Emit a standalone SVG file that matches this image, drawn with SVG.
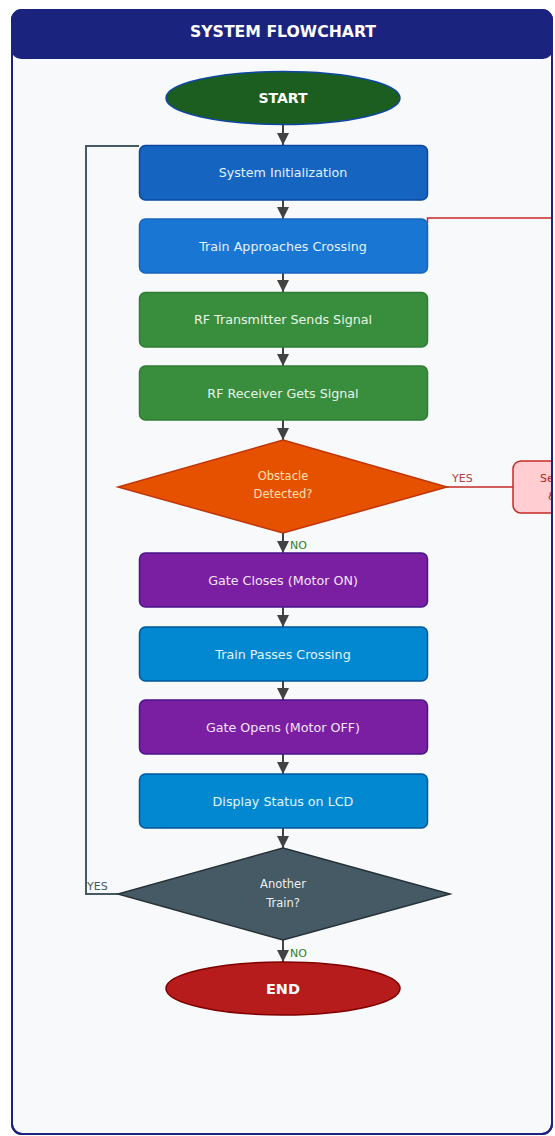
<svg xmlns="http://www.w3.org/2000/svg" width="555" height="1136" viewBox="0 0 555 1136">
<defs>
<style>
.lbl{font-family:"DejaVu Sans","Liberation Sans",sans-serif;text-anchor:middle}
.bx{font-size:12.7px}
.dt{font-size:11.5px}
.tag{font-family:"DejaVu Sans","Liberation Sans",sans-serif;font-size:11px}
.flow{stroke:#424242;stroke-width:2;fill:none}
</style>
<marker id="ah" markerUnits="userSpaceOnUse" markerWidth="12" markerHeight="12" refX="12" refY="6" orient="auto">
<path d="M0,0 L12,6 L0,12 z" fill="#424242"/>
</marker>
<clipPath id="frameclip"><rect x="12" y="10" width="540" height="1124"/></clipPath>
</defs>
<rect x="0" y="0" width="555" height="1136" fill="#ffffff"/>
<g id="frame">
<rect x="12" y="10" width="540" height="1124" rx="10" fill="#f8f9fa" stroke="#1a237e" stroke-width="2"/>
<rect x="11" y="10" width="542" height="49" rx="10" fill="#1a237e"/>
<text x="283" y="37" class="lbl" font-size="15.7" font-weight="bold" fill="#ffffff">SYSTEM FLOWCHART</text>
</g>
<g id="connectors">
<line x1="283" y1="125" x2="283" y2="145" class="flow" marker-end="url(#ah)"/>
<line x1="283" y1="200" x2="283" y2="219" class="flow" marker-end="url(#ah)"/>
<line x1="283" y1="273" x2="283" y2="292" class="flow" marker-end="url(#ah)"/>
<line x1="283" y1="347" x2="283" y2="366" class="flow" marker-end="url(#ah)"/>
<line x1="283" y1="420" x2="283" y2="440" class="flow" marker-end="url(#ah)"/>
<line x1="283" y1="533" x2="283" y2="553" class="flow" marker-end="url(#ah)"/>
<line x1="283" y1="607" x2="283" y2="627" class="flow" marker-end="url(#ah)"/>
<line x1="283" y1="681" x2="283" y2="700" class="flow" marker-end="url(#ah)"/>
<line x1="283" y1="754" x2="283" y2="774" class="flow" marker-end="url(#ah)"/>
<line x1="283" y1="828" x2="283" y2="848" class="flow" marker-end="url(#ah)"/>
<line x1="283" y1="940" x2="283" y2="962" class="flow" marker-end="url(#ah)"/>
<path d="M118,894 H86 V146 H139" fill="none" stroke="#455a64" stroke-width="2"/>
<line x1="447" y1="487" x2="513" y2="487" stroke="#c62828" stroke-width="1.5"/>
<path d="M553,218 H427.5 V223" fill="none" stroke="#c62828" stroke-width="1.5"/>
<text x="452" y="482" class="tag" fill="#b0413e">YES</text>
<text x="290" y="549" class="tag" fill="#2e7d32">NO</text>
<text x="87" y="890" class="tag" fill="#455a64">YES</text>
<text x="290" y="957" class="tag" fill="#2e7d32">NO</text>
</g>
<g id="start">
<ellipse cx="283" cy="98" rx="117" ry="26.5" fill="#1b5e20" stroke="#0d47a1" stroke-width="1.5"/>
<text x="283" y="103" class="lbl" font-size="14" font-weight="bold" fill="#ffffff">START</text>
</g>
<g id="init">
<rect x="139.5" y="145.5" width="288" height="54.5" rx="6" fill="#1565c0" stroke="#0d47a1" stroke-width="1.5"/>
<text x="283" y="177" class="lbl bx" fill="#e3f2fd">System Initialization</text>
</g>
<g id="approach">
<rect x="139.5" y="219" width="288" height="54" rx="6" fill="#1976d2" stroke="#1565c0" stroke-width="1.5"/>
<text x="283" y="250.5" class="lbl bx" fill="#e3f2fd">Train Approaches Crossing</text>
</g>
<g id="transmit">
<rect x="139.5" y="292.5" width="288" height="54.5" rx="6" fill="#388e3c" stroke="#2e7d32" stroke-width="1.5"/>
<text x="283" y="324" class="lbl bx" fill="#e8f5e9">RF Transmitter Sends Signal</text>
</g>
<g id="receive">
<rect x="139.5" y="366" width="288" height="54" rx="6" fill="#388e3c" stroke="#2e7d32" stroke-width="1.5"/>
<text x="283" y="397.5" class="lbl bx" fill="#e8f5e9">RF Receiver Gets Signal</text>
</g>
<g id="obstacle">
<polygon points="283,440 447,487 283,533 118,487" fill="#e65100" stroke="#bf360c" stroke-width="1.5"/>
<text x="283" y="480" class="lbl dt" fill="#ffe0b2">Obstacle</text>
<text x="283" y="498" class="lbl dt" fill="#ffe0b2">Detected?</text>
</g>
<g id="alert" clip-path="url(#frameclip)">
<rect x="513" y="461" width="90" height="52" rx="8" fill="#ffcdd2" stroke="#c62828" stroke-width="1.5"/>
<text x="540" y="482" class="tag" font-size="11.5" fill="#b71c1c">Se</text>
<text x="548" y="500" class="tag" font-size="11.5" fill="#b71c1c">&amp;</text>
</g>
<g id="gateclose">
<rect x="139.5" y="553" width="288" height="54" rx="6" fill="#7b1fa2" stroke="#4a148c" stroke-width="1.5"/>
<text x="283" y="584.5" class="lbl bx" fill="#f3e5f5">Gate Closes (Motor ON)</text>
</g>
<g id="passes">
<rect x="139.5" y="627" width="288" height="54" rx="6" fill="#0288d1" stroke="#01579b" stroke-width="1.5"/>
<text x="283" y="658.5" class="lbl bx" fill="#e1f5fe">Train Passes Crossing</text>
</g>
<g id="gateopen">
<rect x="139.5" y="700" width="288" height="54" rx="6" fill="#7b1fa2" stroke="#4a148c" stroke-width="1.5"/>
<text x="283" y="731.5" class="lbl bx" fill="#f3e5f5">Gate Opens (Motor OFF)</text>
</g>
<g id="display">
<rect x="139.5" y="774" width="288" height="54" rx="6" fill="#0288d1" stroke="#01579b" stroke-width="1.5"/>
<text x="283" y="805.5" class="lbl bx" fill="#e1f5fe">Display Status on LCD</text>
</g>
<g id="another">
<polygon points="283,848 450,894 283,940 118,894" fill="#455a64" stroke="#263238" stroke-width="1.5"/>
<text x="283" y="888" class="lbl dt" fill="#eceff1">Another</text>
<text x="283" y="907" class="lbl dt" fill="#eceff1">Train?</text>
</g>
<g id="end">
<ellipse cx="283" cy="988.5" rx="117" ry="26.5" fill="#b71c1c" stroke="#7f0000" stroke-width="1.5"/>
<text x="283" y="994" class="lbl" font-size="14.5" font-weight="bold" fill="#ffffff">END</text>
</g>
<rect x="12" y="10" width="540" height="1124" rx="10" fill="none" stroke="#1a237e" stroke-width="2"/>
</svg>
